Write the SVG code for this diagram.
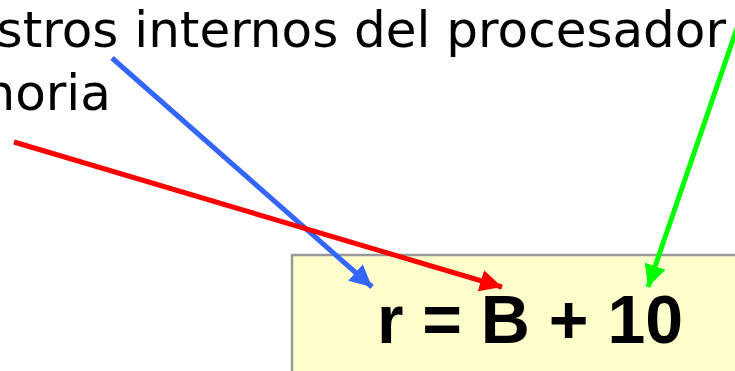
<svg xmlns="http://www.w3.org/2000/svg" width="735" height="371" viewBox="0 0 735 371">
<style>
.lbl{font-family:"DejaVu Sans",Verdana,sans-serif;font-size:50px;fill:#000}
.expr{font-family:"Liberation Sans",Arial,sans-serif;font-size:68px;font-weight:bold;fill:#000}
.c{fill:none;stroke-width:5}
</style>
<defs>
<marker id="mb" viewBox="0 0 10 10" refX="10" refY="5" markerWidth="4.4" markerHeight="4.4" orient="auto" markerUnits="strokeWidth"><path d="M0,0 L10,5 L0,10 z" fill="#3366FF"/></marker>
<marker id="mr" viewBox="0 0 10 10" refX="10" refY="5" markerWidth="4.4" markerHeight="4.4" orient="auto" markerUnits="strokeWidth"><path d="M0,0 L10,5 L0,10 z" fill="#FF0000"/></marker>
<marker id="mg" viewBox="0 0 10 10" refX="10" refY="5" markerWidth="4.4" markerHeight="4.4" orient="auto" markerUnits="strokeWidth"><path d="M0,0 L10,5 L0,10 z" fill="#00FF00"/></marker>
</defs>
<g id="labels">
<text class="lbl" x="726" y="47" text-anchor="end">stros internos del procesador</text>
<text class="lbl" x="-16.5" y="110">noria</text>
</g>
<g id="box">
<rect x="292" y="255" width="460" height="130" fill="#FFFFCC" stroke="#999999" stroke-width="2.5"/>
<text class="expr" x="530" y="343" text-anchor="middle">r = B + 10</text>
</g>
<g id="connectors">
<line class="c" x1="112" y1="58" x2="372" y2="287" stroke="#3366FF" marker-end="url(#mb)"/>
<line class="c" x1="14" y1="142" x2="502" y2="287" stroke="#FF0000" marker-end="url(#mr)"/>
<line class="c" x1="737" y1="28" x2="648" y2="287" stroke="#00FF00" marker-end="url(#mg)"/>
</g>
</svg>
